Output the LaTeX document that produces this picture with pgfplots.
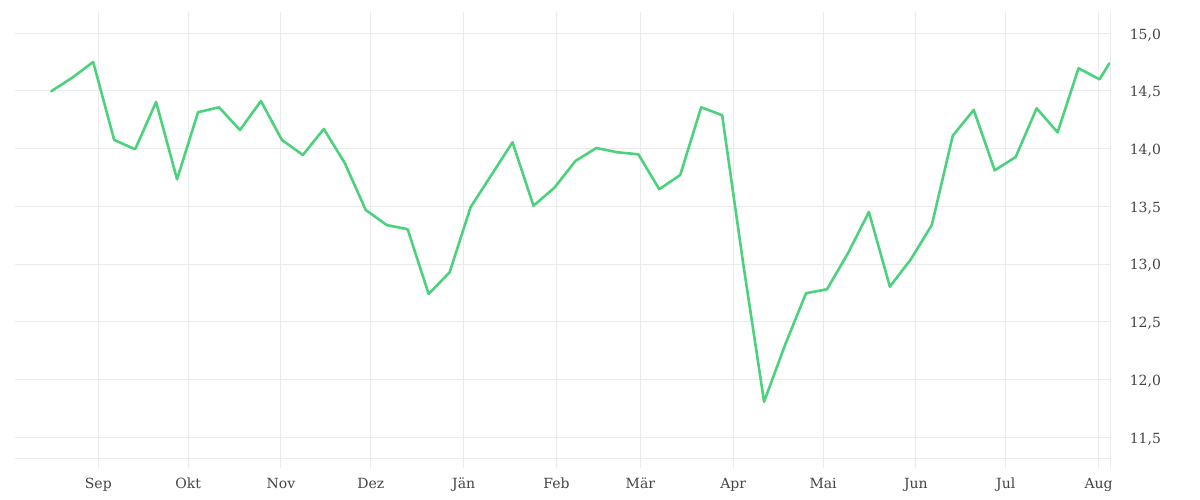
\documentclass[border=0pt]{standalone}
\usepackage{pgfplots}
\pgfplotsset{compat=1.18}
\usepackage{fontspec}
\setmainfont{DejaVu Serif}
\definecolor{linegreen}{RGB}{76,210,124}
\definecolor{gridgray}{RGB}{235,235,235}
\definecolor{txtgray}{RGB}{68,68,68}
\begin{document}
\begin{tikzpicture}
\useasboundingbox (0,0) rectangle (1200pt,500pt);
\begin{axis}[
  at={(15pt,41.7pt)}, anchor=south west,
  scale only axis, width=1095pt, height=446.3pt,
  xmin=-27.81, xmax=337.8, ymin=11.318, ymax=15.1845,
  axis x line*=bottom, axis y line*=right,
  axis line style={gridgray, line width=1pt, -},
  xtick={0,30,61,91,122,153,181,212,242,273,303,334},
  xticklabels={Sep,Okt,Nov,Dez,Jän,Feb,Mär,Apr,Mai,Jun,Jul,Aug},
  extra x ticks={337.8}, extra x tick labels={},
  extra x tick style={grid=none},
  ytick={11.5,12,12.5,13,13.5,14,14.5,15},
  grid=major,
  major grid style={gridgray, line width=1pt},
  tick align=outside,
  xtick style={gridgray, line width=1pt, /pgfplots/major tick length=10pt},
  ytick style={draw=none},
  yticklabel style={anchor=west, xshift=12pt, yshift=-1.5pt},
  xticklabel style={yshift=-12pt},
  ticklabel style={font=\fontsize{14pt}{16pt}\selectfont, text=txtgray},
  /pgf/number format/.cd, use comma, fixed, fixed zerofill, precision=1, assume math mode=true,
]
\addplot[linegreen, line width=2.6pt, line join=round, line cap=round] coordinates {
(-15.7,14.498) (-8.7,14.615) (-1.7,14.751) (5.3,14.076) (12.3,13.995)
(19.3,14.405) (26.3,13.735) (33.3,14.316) (40.3,14.359) (47.3,14.162)
(54.3,14.413) (61.3,14.076) (68.3,13.946) (75.3,14.171) (82.3,13.876)
(89.3,13.469) (96.3,13.339) (103.3,13.302) (110.3,12.742) (117.3,12.929)
(124.3,13.493) (131.3,13.774) (138.3,14.056) (145.3,13.506) (152.3,13.662)
(159.3,13.894) (166.3,14.006) (173.3,13.969) (180.3,13.952) (187.3,13.649)
(194.3,13.772) (201.3,14.359) (208.3,14.290) (215.3,13.010) (222.3,11.808)
(229.3,12.300) (236.3,12.748) (243.3,12.782) (250.3,13.094) (257.3,13.452)
(264.3,12.805) (271.3,13.042) (278.3,13.339) (285.3,14.113) (292.3,14.336)
(299.3,13.813) (306.3,13.928) (313.3,14.350) (320.3,14.142) (327.3,14.697)
(334.3,14.601) (337.6,14.740)
};
\end{axis}
\end{tikzpicture}
\end{document}
